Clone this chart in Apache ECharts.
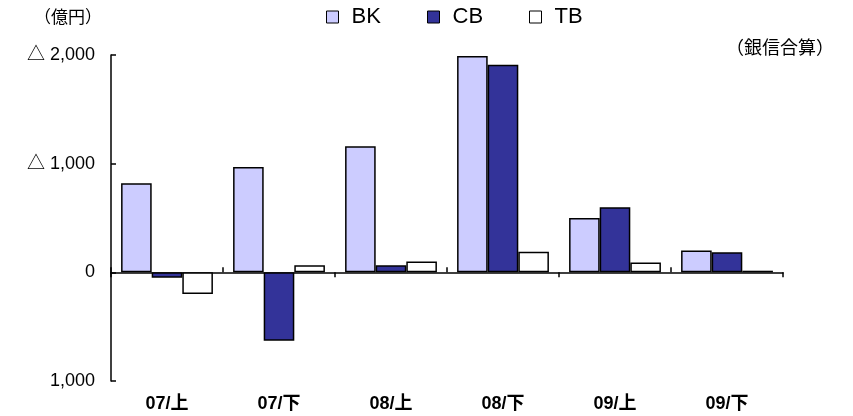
<!DOCTYPE html>
<html>
<head>
<meta charset="utf-8">
<script src="https://cdn.jsdelivr.net/npm/echarts@6/dist/echarts.min.js"></script>
<style>html,body{margin:0;padding:0;background:#fff}#c{width:853px;height:416px}</style>
</head>
<body>
<div id="c"></div>
<script>
var categories = ['07/上', '07/下', '08/上', '08/下', '09/上', '09/下'];
var bkValues = [820, 970, 1160, 1990, 500, 200];
var cbValues = [-50, -630, 65, 1910, 600, 185];
var tbValues = [-200, 65, 100, 190, 90, 15];
var yTicks = [-1000, 0, 1000, 2000];
var unitLabel = '（億円）';
var noteLabel = '（銀信合算）';

var chart = echarts.init(document.getElementById('c'), null, {renderer: 'canvas'});
var fontLatin = '"Liberation Sans", Arial, "Noto Sans CJK JP", sans-serif';
var fontCJK = '"Noto Sans CJK JP", sans-serif';

function fmtY(v) {
  var s = Math.abs(v).toLocaleString('en-US');
  if (v > 0) return '△ ' + s;
  return v === 0 ? '0' : s;
}

function legendAt(name, left) {
  return {
    data: [name], left: left, top: 1,
    icon: 'rect', itemWidth: 12, itemHeight: 12,
    itemStyle: {borderColor: '#000', borderWidth: 1},
    textStyle: {fontSize: 22, color: '#000', fontFamily: fontLatin, padding: [0, 0, 0, 8]},
    selectedMode: false
  };
}

var barBorder = {borderColor: '#000', borderWidth: 1.5};

chart.setOption({
  animation: false,
  backgroundColor: '#fff',
  grid: {left: 111, right: 70, top: 55, bottom: 35, containLabel: false},
  legend: [legendAt('BK', 321), legendAt('CB', 422), legendAt('TB', 524)],
  graphic: [
    {type: 'text', left: 34, top: 8, style: {text: unitLabel, fontSize: 17, fill: '#000', fontFamily: fontCJK}},
    {type: 'text', left: 726, top: 38, style: {text: noteLabel, fontSize: 18, fill: '#000', fontFamily: fontCJK}}
  ],
  xAxis: [
    {
      type: 'category', data: categories, position: 'bottom',
      axisLine: {show: true, onZero: true, onZeroAxisIndex: 0, lineStyle: {color: '#000', width: 1.5}},
      axisTick: {show: true, inside: false, length: 5, lineStyle: {color: '#000', width: 1.5},
        interval: function (i) { return i % 2 === 0; }},
      axisLabel: {show: false}, splitLine: {show: false}
    },
    {
      type: 'category', data: categories, position: 'top', inverse: true,
      axisLine: {show: false, onZero: true, onZeroAxisIndex: 0},
      axisTick: {show: true, inside: false, length: 5, lineStyle: {color: '#000', width: 1.5},
        interval: function (i) { return i % 2 === 1; }},
      axisLabel: {show: false}, splitLine: {show: false}
    },
    {
      type: 'category', data: categories, position: 'bottom',
      axisLine: {show: false, onZero: false},
      axisTick: {show: false},
      axisLabel: {show: true, margin: 14, fontSize: 18, fontWeight: 'bold', color: '#000', fontFamily: fontLatin},
      splitLine: {show: false}
    }
  ],
  yAxis: {
    type: 'value', min: yTicks[0], max: yTicks[yTicks.length - 1], interval: 1000,
    axisLine: {show: true, onZero: false, lineStyle: {color: '#000', width: 1.5}},
    axisTick: {show: true, inside: true, length: 5, lineStyle: {color: '#000', width: 1.5}},
    axisLabel: {formatter: fmtY, fontSize: 18, color: '#000', margin: 16, fontFamily: fontLatin},
    splitLine: {show: false}
  },
  series: [
    {name: 'BK', type: 'bar', xAxisIndex: 0, data: bkValues, barGap: '0%', barCategoryGap: '18%',
      itemStyle: Object.assign({color: '#CCCCFF'}, barBorder)},
    {name: 'CB', type: 'bar', xAxisIndex: 0, data: cbValues, barGap: '0%', barCategoryGap: '18%',
      itemStyle: Object.assign({color: '#333399'}, barBorder)},
    {name: 'TB', type: 'bar', xAxisIndex: 0, data: tbValues, barGap: '0%', barCategoryGap: '18%',
      itemStyle: Object.assign({color: '#FFFFFF'}, barBorder)}
  ]
});
</script>
</body>
</html>
